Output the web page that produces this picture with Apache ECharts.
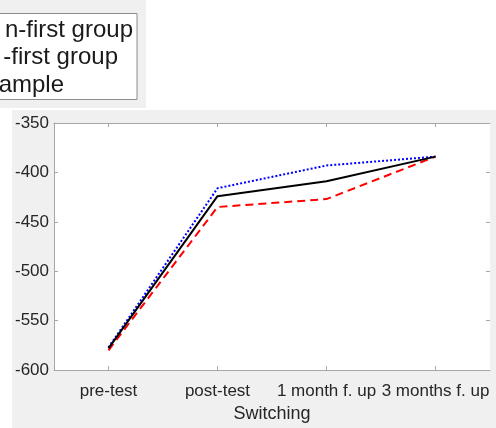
<!DOCTYPE html>
<html>
<head>
<meta charset="utf-8">
<script src="https://cdn.jsdelivr.net/npm/echarts@6/dist/echarts.min.js"></script>
<style>
  html, body { margin: 0; padding: 0; background: #ffffff; }
  #chart { width: 496px; height: 428px; }
</style>
</head>
<body>
<div id="chart"></div>
<script>
// Switching scores across the four measurement points
const categories = ['pre-test', 'post-test', '1 month f. up', '3 months f. up'];
const wholeSample = [-578, -424, -409, -384];
const blueGroup = [-577, -416, -393, -384];
const redGroup = [-580, -435, -427, -384];
const yTicks = { min: -600, max: -350, step: 50 };
const legendLabels = ['n-first group', '-first group', 'ample'];

const FONT = '"Liberation Sans", Arial, Helvetica, sans-serif';
const chart = echarts.init(document.getElementById('chart'), null, { renderer: 'canvas' });

const legendTextY = [30, 57.5, 85];
const legendTextRight = [133, 118, 64];

chart.setOption({
  animation: false,
  backgroundColor: '#ffffff',
  graphic: [
    // figure panel behind the legend
    { type: 'rect', z: -10, silent: true, shape: { x: 0, y: 0, width: 146, height: 108 }, style: { fill: '#f0f0f0' } },
    // figure panel behind the axes
    { type: 'rect', z: -10, silent: true, shape: { x: 12, y: 110, width: 484, height: 318 }, style: { fill: '#f0f0f0' } },
    // legend box
    { type: 'rect', z: 5, silent: true, shape: { x: -5, y: 13.5, width: 142, height: 86 }, style: { fill: '#ffffff', stroke: '#8c8c8c', lineWidth: 1 } },
    ...legendLabels.map((t, i) => ({
      type: 'text', z: 6, silent: true,
      x: legendTextRight[i], y: legendTextY[i],
      style: { text: t, fill: '#1a1a1a', font: '24px ' + FONT, textAlign: 'right', textVerticalAlign: 'middle' }
    }))
  ],
  grid: {
    left: 54, right: 6, top: 123, bottom: 56,
    show: true, backgroundColor: '#ffffff', borderWidth: 0
  },
  xAxis: [
    {
      type: 'category', data: categories, boundaryGap: true, position: 'bottom',
      name: 'Switching', nameLocation: 'middle', nameGap: 29,
      nameTextStyle: { fontFamily: FONT, fontSize: 18, color: '#262626' },
      axisLine: { show: true, lineStyle: { color: '#a6a6a6', width: 1 } },
      axisTick: { show: true, inside: true, alignWithLabel: true, length: 4, lineStyle: { color: '#a6a6a6' } },
      axisLabel: { fontFamily: FONT, fontSize: 17, color: '#262626', margin: 13, interval: 0 },
      splitLine: { show: false }
    },
    {
      type: 'category', data: categories, boundaryGap: true, position: 'top',
      axisLine: { show: true, lineStyle: { color: '#a6a6a6', width: 1 } },
      axisTick: { show: true, inside: true, alignWithLabel: true, length: 4, lineStyle: { color: '#a6a6a6' } },
      axisLabel: { show: false },
      splitLine: { show: false }
    }
  ],
  yAxis: [
    {
      type: 'value', min: yTicks.min, max: yTicks.max, interval: yTicks.step, position: 'left',
      axisLine: { show: true, lineStyle: { color: '#a6a6a6', width: 1 } },
      axisTick: { show: true, inside: true, length: 4, lineStyle: { color: '#a6a6a6' } },
      axisLabel: { fontFamily: FONT, fontSize: 17, color: '#262626', margin: 5 },
      splitLine: { show: false }
    },
    {
      type: 'value', min: yTicks.min, max: yTicks.max, interval: yTicks.step, position: 'right',
      axisLine: { show: false },
      axisTick: { show: true, inside: true, length: 4, lineStyle: { color: '#a6a6a6' } },
      axisLabel: { show: false },
      splitLine: { show: false }
    }
  ],
  series: [
    {
      name: 'blue', type: 'line', data: blueGroup, symbol: 'none', z: 3,
      lineStyle: { color: '#0000ff', width: 2, type: [2, 2] }
    },
    {
      name: 'red', type: 'line', data: redGroup, symbol: 'none', z: 3,
      lineStyle: { color: '#ff0000', width: 2, type: [8, 5] }
    },
    {
      name: 'whole', type: 'line', data: wholeSample, symbol: 'none', z: 4,
      lineStyle: { color: '#000000', width: 2 }
    }
  ]
});
</script>
</body>
</html>
